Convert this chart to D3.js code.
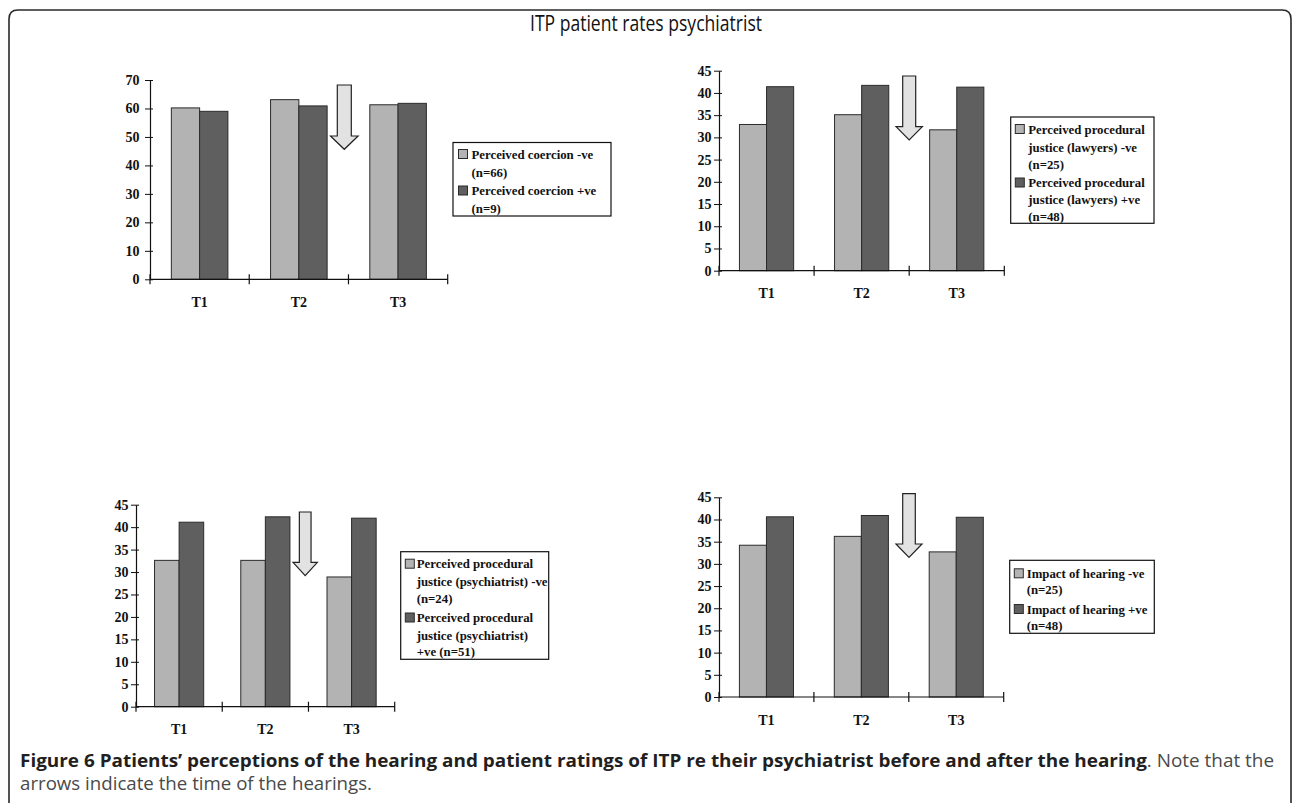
<!DOCTYPE html>
<html>
<head>
<meta charset="utf-8">
<script src="https://cdn.jsdelivr.net/npm/d3@7/dist/d3.min.js"></script>
<style>
  html, body { margin: 0; padding: 0; background: #fff; }
  svg { display: block; }
  .tick text { font-family: "Liberation Serif", "Times New Roman", serif; font-weight: bold; }
</style>
</head>
<body>
<svg id="chart" width="1292" height="803"></svg>
<script>
// ---------------- DATA ----------------
const categories = ["T1", "T2", "T3"];

const coercionNeg = [60.2, 63.1, 61.3];
const coercionPos = [59.0, 60.9, 61.8];

const lawyersNeg = [32.9, 35.1, 31.7];
const lawyersPos = [41.4, 41.7, 41.3];

const psychNeg = [32.6, 32.6, 28.9];
const psychPos = [41.1, 42.3, 42.0];

const impactNeg = [34.2, 36.2, 32.7];
const impactPos = [40.6, 40.9, 40.5];

const yMaxes = [70, 45, 45, 45];
const yTickSteps = [10, 5, 5, 5];

const legendCoercion = [["Perceived coercion -ve", "(n=66)"], ["Perceived coercion +ve", "(n=9)"]];
const legendLawyers = [["Perceived procedural", "justice (lawyers) -ve", "(n=25)"], ["Perceived procedural", "justice (lawyers) +ve", "(n=48)"]];
const legendPsych = [["Perceived procedural", "justice (psychiatrist) -ve", "(n=24)"], ["Perceived procedural", "justice (psychiatrist)", "+ve (n=51)"]];
const legendImpact = [["Impact of hearing -ve", "(n=25)"], ["Impact of hearing +ve", "(n=48)"]];

const titleText = "ITP patient rates psychiatrist";
const captionBold = "Figure 6 Patients\u2019 perceptions of the hearing and patient ratings of ITP re their psychiatrist before and after the hearing";
const captionRest = ". Note that the";
const captionLine2 = "arrows indicate the time of the hearings.";

// ---------------- LAYOUT / STYLE ----------------
const lightFill = "#b3b3b3", darkFill = "#5f5f5f", strokeCol = "#2b2b2b";
const seriesFills = [lightFill, darkFill];
const serif = "'Liberation Serif', 'Times New Roman', serif";

const panels = [
  { neg: coercionNeg, pos: coercionPos, legend: legendCoercion, yMax: yMaxes[0], step: yTickSteps[0],
    x0: 150, x1: 447.7, yTop: 80, yBot: 279.3, tickPad: 5.5,
    arrow: { cx: 344.3, head: 27.6, shaft: 14, top: 85, neck: 136, tip: 149.3 },
    box: { x: 453, y: 142.5, w: 158, h: 73.5, swX: 458.5, txX: 471.5, lines: [154, 172, 190.5, 208] } },
  { neg: lawyersNeg, pos: lawyersPos, legend: legendLawyers, yMax: yMaxes[1], step: yTickSteps[1],
    x0: 719, x1: 1004.3, yTop: 70.7, yBot: 270.7, tickPad: 2.5,
    arrow: { cx: 909.2, head: 26.3, shaft: 13, top: 76, neck: 126.7, tip: 140 },
    box: { x: 1010.7, y: 117, w: 143.3, h: 106.3, swX: 1015.3, txX: 1028.3, lines: [129, 147, 164, 182.5, 199.5, 216] } },
  { neg: psychNeg, pos: psychPos, legend: legendPsych, yMax: yMaxes[2], step: yTickSteps[2],
    x0: 136, x1: 394.7, yTop: 504.7, yBot: 706.7, tickPad: 2.5,
    arrow: { cx: 305.2, head: 24.3, shaft: 11.7, top: 512, neck: 562.3, tip: 575.7 },
    box: { x: 400.7, y: 551.7, w: 148, h: 107.6, swX: 405.3, txX: 416.7, lines: [563.7, 581.5, 598.5, 617.5, 635, 651.5] } },
  { neg: impactNeg, pos: impactPos, legend: legendImpact, yMax: yMaxes[3], step: yTickSteps[3],
    x0: 719, x1: 1003.7, yTop: 497.3, yBot: 697, tickPad: 2.5,
    arrow: { cx: 909, head: 26, shaft: 12.6, top: 493.7, neck: 544, tip: 557.3 },
    box: { x: 1009.7, y: 560.3, w: 144.6, h: 73, swX: 1014.3, txX: 1026.7, lines: [573.3, 589.5, 609, 625.7] } }
];

const svg = d3.select("#chart");

// Frame (rounded, open at bottom)
const fx0 = 9, fy0 = 10, fx1 = 1291, r = 9;
svg.append("path")
  .attr("d", `M${fx0},810 L${fx0},${fy0 + r} Q${fx0},${fy0} ${fx0 + r},${fy0} L${fx1 - r},${fy0} Q${fx1},${fy0} ${fx1},${fy0 + r} L${fx1},810`)
  .attr("fill", "none").attr("stroke", "#2a2a2a").attr("stroke-width", 1.6);

// Title
svg.append("text")
  .attr("x", 646).attr("y", 31)
  .attr("text-anchor", "middle")
  .attr("font-family", "'Open Sans', sans-serif")
  .attr("font-size", 21)
  .attr("textLength", 232).attr("lengthAdjust", "spacingAndGlyphs")
  .attr("fill", "#111")
  .text(titleText);

panels.forEach(p => {
  const g = svg.append("g");
  const data = categories.map((c, i) => ({ cat: c, vals: [p.neg[i], p.pos[i]] }));

  const x = d3.scaleBand().domain(categories).range([p.x0, p.x1]).paddingInner(0.43).paddingOuter(0.215);
  const xs = d3.scaleBand().domain([0, 1]).range([0, x.bandwidth()]).padding(0);
  const y = d3.scaleLinear().domain([0, p.yMax]).range([p.yBot, p.yTop]);

  // bars
  g.selectAll("g.grp").data(data).join("g")
    .attr("transform", d => `translate(${x(d.cat)},0)`)
    .selectAll("rect").data(d => d.vals).join("rect")
    .attr("x", (v, i) => xs(i))
    .attr("y", v => y(v))
    .attr("width", xs.bandwidth())
    .attr("height", v => y(0) - y(v))
    .attr("fill", (v, i) => seriesFills[i])
    .attr("stroke", strokeCol).attr("stroke-width", 1);

  // y axis
  const yAxis = d3.axisLeft(y)
    .tickValues(d3.range(0, p.yMax + 0.001, p.step))
    .tickSizeInner(5).tickSizeOuter(0).tickPadding(p.tickPad)
    .tickFormat(d3.format("d"));
  const ya = g.append("g").attr("transform", `translate(${p.x0},0)`).call(yAxis);
  ya.select(".domain").attr("stroke", "#111").attr("stroke-width", 1.2);
  ya.selectAll(".tick line").attr("x1", 3).attr("stroke", "#111");
  ya.selectAll(".tick text").attr("font-size", 14).attr("fill", "#111");

  // x axis: labels from band scale, boundary ticks
  const xAxis = d3.axisBottom(x).tickSize(0).tickPadding(0);
  const xa = g.append("g").attr("transform", `translate(0,${p.yBot})`).call(xAxis);
  xa.select(".domain").remove();
  xa.selectAll(".tick text").attr("font-size", 14).attr("fill", "#111").attr("dy", null).attr("y", 27.5);

  g.append("line").attr("x1", p.x0).attr("x2", p.x1).attr("y1", p.yBot).attr("y2", p.yBot)
    .attr("stroke", "#111").attr("stroke-width", 1.2);
  const boundaries = d3.range(categories.length + 1).map(i => p.x0 + i * x.step());
  g.selectAll("line.bt").data(boundaries).join("line").attr("class", "bt")
    .attr("x1", d => d).attr("x2", d => d)
    .attr("y1", p.yBot - 5).attr("y2", p.yBot + 5)
    .attr("stroke", "#111").attr("stroke-width", 1.2);

  // arrow annotation (time of hearing)
  const a = p.arrow;
  const pts = [
    [a.cx - a.shaft / 2, a.top], [a.cx + a.shaft / 2, a.top], [a.cx + a.shaft / 2, a.neck],
    [a.cx + a.head / 2, a.neck], [a.cx, a.tip], [a.cx - a.head / 2, a.neck], [a.cx - a.shaft / 2, a.neck]
  ];
  g.append("polygon").attr("points", pts.map(q => q.join(",")).join(" "))
    .attr("fill", "#e2e2e2").attr("stroke", "#222").attr("stroke-width", 1.2);

  // legend
  const b = p.box;
  g.append("rect").attr("x", b.x).attr("y", b.y).attr("width", b.w).attr("height", b.h)
    .attr("fill", "#fff").attr("stroke", "#111").attr("stroke-width", 1.2);
  let li = 0;
  p.legend.forEach((entry, si) => {
    entry.forEach((line, k) => {
      const ly = b.lines[li++];
      if (k === 0) {
        g.append("rect").attr("x", b.swX).attr("y", ly - 4.5).attr("width", 9).attr("height", 9)
          .attr("fill", seriesFills[si]).attr("stroke", strokeCol).attr("stroke-width", 1);
      }
      g.append("text").attr("x", b.txX).attr("y", ly + 4.6)
        .attr("font-family", serif)
        .attr("font-weight", "bold").attr("font-size", 12.8).attr("fill", "#111")
        .text(line);
    });
  });
});

// Caption
const cap = svg.append("text")
  .attr("x", 20).attr("y", 767)
  .attr("font-family", "'Open Sans', sans-serif")
  .attr("font-size", 17.5)
  .attr("textLength", 1254).attr("lengthAdjust", "spacingAndGlyphs");
cap.append("tspan").attr("font-weight", "bold").attr("fill", "#231f20").text(captionBold);
cap.append("tspan").attr("fill", "#4a4a4a").text(captionRest);

svg.append("text")
  .attr("x", 20).attr("y", 790)
  .attr("font-family", "'Open Sans', sans-serif")
  .attr("font-size", 17.5).attr("fill", "#4a4a4a")
  .attr("textLength", 352).attr("lengthAdjust", "spacingAndGlyphs")
  .text(captionLine2);
</script>
</body>
</html>
